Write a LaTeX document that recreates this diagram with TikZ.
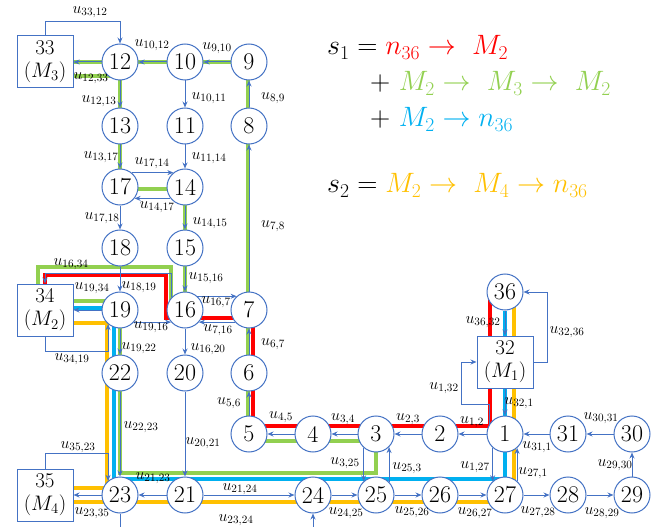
\RequirePackage{fix-cm}
\documentclass[tikz,border=0pt]{standalone}
\usepackage{amsmath}
\usetikzlibrary{arrows.meta, calc, backgrounds}
\definecolor{linkc}{RGB}{68,114,196}
\definecolor{pred}{RGB}{255,0,0}
\definecolor{pgreen}{RGB}{146,208,80}
\definecolor{pcyan}{RGB}{0,176,240}
\definecolor{porange}{RGB}{255,192,0}

\begin{document}
\begin{tikzpicture}[x=1pt,y=-1pt,>={Stealth[length=6pt,width=5pt]},stn/.style={circle, draw=linkc, line width=1pt, fill=white, minimum size=36pt, inner sep=0pt, font=\fontsize{24}{24}\selectfont},mach/.style={rectangle, draw=linkc, line width=1pt, fill=white, minimum width=56pt, minimum height=52pt, inner sep=0pt, align=center, font=\fontsize{21}{23}\selectfont},link/.style={->, linkc, line width=1pt},lbl/.style={inner sep=0pt, font=\fontsize{16}{16}\selectfont},route/.style={line width=4pt},formula/.style={anchor=base west, inner sep=0pt, font=\fontsize{28}{28}\selectfont}]
\useasboundingbox (0,0) rectangle (665,527);
% stations
\node[stn] (n12) at (120,62) {12}; \node[stn] (n10) at (185,62) {10}; \node[stn] (n9) at (249,62) {9};
\node[stn] (n13) at (120,126) {13}; \node[stn] (n11) at (185,126) {11}; \node[stn] (n8) at (249,126) {8};
\node[stn] (n17) at (120,187) {17}; \node[stn] (n14) at (185,187) {14};
\node[stn] (n18) at (120,248) {18}; \node[stn] (n15) at (185,248) {15};
\node[stn] (n19) at (120,310) {19}; \node[stn] (n16) at (185,310) {16}; \node[stn] (n7) at (249,310) {7};
\node[stn] (n22) at (120,373) {22}; \node[stn] (n20) at (185,373) {20}; \node[stn] (n6) at (249,373) {6};
\node[stn] (n5) at (249,434) {5}; \node[stn] (n4) at (313,434) {4}; \node[stn] (n3) at (376,434) {3}; \node[stn] (n2) at (440,434) {2};
\node[stn] (n1) at (505,434) {1}; \node[stn] (n31) at (568,434) {31}; \node[stn] (n30) at (632,434) {30};
\node[stn] (n23) at (120,495) {23}; \node[stn] (n21) at (185,495) {21}; \node[stn] (n24) at (313,495) {24}; \node[stn] (n25) at (376,495) {25};
\node[stn] (n26) at (440,495) {26}; \node[stn] (n27) at (505,495) {27}; \node[stn] (n28) at (568,495) {28}; \node[stn] (n29) at (632,495) {29};
\node[stn] (n36) at (505,292) {36};
% machines
\node[mach] (m33) at (45,62) {33\\$(M_3)$}; \node[mach] (m34) at (45,310) {34\\$(M_2)$};
\node[mach] (m35) at (45,495) {35\\$(M_4)$}; \node[mach] (m32) at (505,362) {32\\$(M_1)$};
% routes
\begin{pgfonlayer}{background}
\draw[route, pred] ($(n36)+(-15,0)$) |- ($(n5)+(4,-8)$) |- ($(n16)+(-19,8)$) |- ($(m34)+(0,-35)$) -- (m34);
\draw[route, pgreen] ($(m34)+(0,-9)$) -| ($(n23)+(0,-22)$) -| ($(n3)+(0,7)$) -| ($(n9)+(-1,0)$) -- (m33);
\draw[route, pgreen] ($(m33)+(0,14)$) -| ($(n17)+(0,2)$) -| ($(n16)+(0,-8)$) -- ($(n16)+(-14,-8)$) |- ($(m34)+(-7,-43)$) -- ($(m34)+(-7,0)$);
\draw[route, pcyan] ($(m34)+(0,-2)$) -| ($(n23)+(-6,-16)$) -| (n36);
\draw[route, porange] ($(m34)+(0,13)$) -| ($(n23)+(-13,-7)$) -- ($(m35)+(0,-7)$);
\draw[route, porange] ($(m35)+(0,7)$) -| ($(n36)+(9,0)$);
\end{pgfonlayer}
% links
\draw[link] (m33.north) -- ++(0,-14) -| (n12.north);
\draw[link] (n10) -- (n12); \draw[link] (n9) -- (n10); \draw[link] (n12) -- (m33);
\draw[link] (n10) -- (n11); \draw[link] (n8) -- (n9); \draw[link] (n12) -- (n13); \draw[link] (n13) -- (n17); \draw[link] (n11) -- (n14);
\draw[link] (n17.51) -- (n14.129); \draw[link] (n14.-142) -- (n17.-38);
\draw[link] (n17) -- (n18); \draw[link] (n14) -- (n15); \draw[link] (n7) -- (n8); \draw[link] (n18) -- (n19); \draw[link] (n15) -- (n16);
\draw[link] (n16.135) -- ++(0,-23) -| (m34.north); \draw[link] (n19) -- (m34); \draw[link] (m34.south) -- ++(0,15) -| (n19.230);
\draw[link] (n19.-41) -- (n16.-139); \draw[link] (n16.48) -- (n7.132); \draw[link] (n7.-139) -- (n16.-41);
\draw[link] (n19) -- (n22); \draw[link] (n16) -- (n20); \draw[link] (n6) -- (n7); \draw[link] (n5) -- (n6);
\draw[link] (n4) -- (n5); \draw[link] (n3) -- (n4); \draw[link] (n2) -- (n3); \draw[link] (n1) -- (n2); \draw[link] (n31) -- (n1); \draw[link] (n30) -- (n31); \draw[link] (n29) -- (n30);
\draw[link] (n36) -- (m32); \draw[link] (m32) -- (n1); \draw[link] (n1.146) |- ++(-28,-19) |- (m32.west); \draw[link] (m32.east) -- ++(14,0) |- (n36.east);
\draw[link] (n1.228) -- (n27.132); \draw[link] (n27.49) -- (n1.-49); \draw[link] (n3.228) -- (n25.132); \draw[link] (n25.45) -- (n3.-45);
\draw[link] (n22) -- (n23); \draw[link] (n20) -- (n21); \draw[link] (n21) -- (n23); \draw[link] (n23) -- (m35); \draw[link] (m35.north) -- ++(0,-15) -| (n23.130);
\draw[link] (n21) -- (n24); \draw[link] (n23.south) -- ++(0,20) -| (n24.south); \draw[link] (n24) -- (n25); \draw[link] (n25) -- (n26); \draw[link] (n26) -- (n27); \draw[link] (n27) -- (n28); \draw[link] (n28) -- (n29);
% link labels
\node[lbl] (u33-12) at (90,12) {$u_{33,12}$}; \node[lbl] (u10-12) at (152,45) {$u_{10,12}$}; \node[lbl] (u9-10) at (217,48) {$u_{9,10}$}; \node[lbl] (u12-33) at (91,78) {$u_{12,33}$};
\node[lbl] (u12-13) at (99,101) {$u_{12,13}$}; \node[lbl] (u10-11) at (209,98) {$u_{10,11}$}; \node[lbl] (u8-9) at (273,98) {$u_{8,9}$};
\node[lbl] (u13-17) at (101,157) {$u_{13,17}$}; \node[lbl] (u17-14) at (152,163) {$u_{17,14}$}; \node[lbl] (u11-14) at (209,158) {$u_{11,14}$}; \node[lbl] (u14-17) at (157,207) {$u_{14,17}$};
\node[lbl] (u17-18) at (102,218) {$u_{17,18}$}; \node[lbl] (u14-15) at (210,223) {$u_{14,15}$}; \node[lbl] (u7-8) at (273,226) {$u_{7,8}$};
\node[lbl] (u16-34) at (71,264) {$u_{16,34}$}; \node[lbl] (u19-34) at (92,288) {$u_{19,34}$}; \node[lbl] (u18-19) at (139,287) {$u_{18,19}$}; \node[lbl] (u15-16) at (206,278) {$u_{15,16}$};
\node[lbl] (u16-7) at (216,302) {$u_{16,7}$}; \node[lbl] (u19-16) at (151,327) {$u_{19,16}$}; \node[lbl] (u7-16) at (218,330) {$u_{7,16}$}; \node[lbl] (u34-19) at (72,359) {$u_{34,19}$};
\node[lbl] (u19-22) at (139,348) {$u_{19,22}$}; \node[lbl] (u16-20) at (208,349) {$u_{16,20}$}; \node[lbl] (u6-7) at (273,344) {$u_{6,7}$};
\node[lbl] (u22-23) at (141,427) {$u_{22,23}$}; \node[lbl] (u20-21) at (203,443) {$u_{20,21}$}; \node[lbl] (u5-6) at (229,403) {$u_{5,6}$};
\node[lbl] (u4-5) at (281,417) {$u_{4,5}$}; \node[lbl] (u3-4) at (343,419) {$u_{3,4}$}; \node[lbl] (u2-3) at (408,419) {$u_{2,3}$}; \node[lbl] (u1-2) at (472,422) {$u_{1,2}$};
\node[lbl] (u30-31) at (601,418) {$u_{30,31}$}; \node[lbl] (u31-1) at (537,447) {$u_{31,1}$}; \node[lbl] (u29-30) at (615,465) {$u_{29,30}$};
\node[lbl] (u3-25) at (345,463) {$u_{3,25}$}; \node[lbl] (u25-3) at (407,468) {$u_{25,3}$}; \node[lbl] (u1-27) at (475,467) {$u_{1,27}$}; \node[lbl] (u27-1) at (533,473) {$u_{27,1}$};
\node[lbl] (u35-23) at (78,447) {$u_{35,23}$}; \node[lbl] (u21-23) at (153,478) {$u_{21,23}$}; \node[lbl] (u21-24) at (240,489) {$u_{21,24}$};
\node[lbl] (u23-35) at (92,513) {$u_{23,35}$}; \node[lbl] (u23-24) at (236,520) {$u_{23,24}$}; \node[lbl] (u24-25) at (346,513) {$u_{24,25}$}; \node[lbl] (u25-26) at (412,512) {$u_{25,26}$};
\node[lbl] (u26-27) at (475,513) {$u_{26,27}$}; \node[lbl] (u27-28) at (538,512) {$u_{27,28}$}; \node[lbl] (u28-29) at (602,513) {$u_{28,29}$};
\node[lbl] (u36-32) at (483,322) {$u_{36,32}$}; \node[lbl] (u32-36) at (567,332) {$u_{32,36}$}; \node[lbl] (u1-32) at (444,388) {$u_{1,32}$}; \node[lbl] (u32-1) at (519,403) {$u_{32,1}$};
% schedules
\node[formula] (s1a) at (327,55) {$s_1 = {\color{pred} n_{36} \rightarrow\ M_2}$};
\node[formula] (s1b) at (370,91) {${+}\ {\color{pgreen} M_2 \rightarrow\ M_3 \rightarrow\ M_2}$};
\node[formula] (s1c) at (370,127) {${+}\ {\color{pcyan} M_2 \rightarrow n_{36}}$};
\node[formula] (s2) at (327,193) {$s_2 = {\color{porange} M_2 \rightarrow\ M_4 \rightarrow n_{36}}$};
\end{tikzpicture}
\end{document}
